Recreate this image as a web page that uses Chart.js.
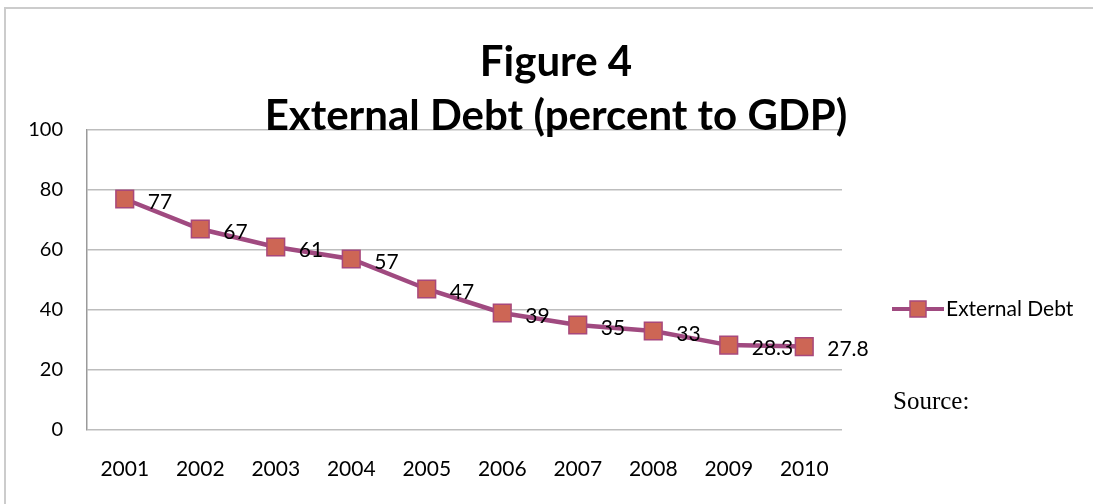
<!DOCTYPE html>
<html>
<head>
<meta charset="utf-8">
<script src="https://cdn.jsdelivr.net/npm/chart.js@4/dist/chart.umd.min.js"></script>
<style>
  body { margin: 0; background: #fff; }
  #wrap { position: relative; width: 1093px; height: 504px; }
  #frame { position: absolute; left: 4px; top: 7px; width: 1100px; height: 520px; border: 2px solid #cccccc; box-sizing: border-box; pointer-events: none; }
</style>
</head>
<body>
<div id="wrap">
  <div id="frame"></div>
  <canvas id="debtChart" width="1093" height="504"></canvas>
</div>
<script>
const years = ["2001", "2002", "2003", "2004", "2005", "2006", "2007", "2008", "2009", "2010"];
const debtValues = [77, 67, 61, 57, 47, 39, 35, 33, 28.3, 27.8];
const yTicks = [0, 20, 40, 60, 80, 100];
const titleLines = ["Figure 4", "External Debt (percent to GDP)"];
const seriesName = "External Debt";
const sourceText = "Source:";

const lineColor = "#a04a80";
const markerFill = "#cd6655";
const markerBorder = "#a8487c";
const sansFont = "Lato, 'Open Sans', sans-serif";

// labels, title, legend and source note drawn on top
const extras = {
  id: "extras",
  afterDatasetsDraw(chart) {
    const ctx = chart.ctx;
    const meta = chart.getDatasetMeta(0);
    ctx.save();
    ctx.fillStyle = "#000";
    ctx.font = "21px " + sansFont;
    ctx.textAlign = "left";
    ctx.textBaseline = "middle";
    meta.data.forEach((pt, i) => {
      ctx.fillText(String(debtValues[i]), pt.x + 23, pt.y + 3);
    });

    // title
    ctx.font = "bold 42px " + sansFont;
    ctx.textAlign = "center";
    ctx.textBaseline = "alphabetic";
    ctx.fillText(titleLines[0], 556, 76);
    ctx.fillText(titleLines[1], 556, 130);

    // legend
    const ly = 309;
    ctx.strokeStyle = lineColor;
    ctx.lineWidth = 4;
    ctx.beginPath();
    ctx.moveTo(892, ly);
    ctx.lineTo(944, ly);
    ctx.stroke();
    ctx.fillStyle = markerFill;
    ctx.strokeStyle = markerBorder;
    ctx.lineWidth = 1.5;
    ctx.fillRect(910, ly - 8, 16, 16);
    ctx.strokeRect(910, ly - 8, 16, 16);
    ctx.fillStyle = "#000";
    ctx.font = "21px " + sansFont;
    ctx.textAlign = "left";
    ctx.textBaseline = "middle";
    ctx.fillText(seriesName, 946, ly);

    // source note
    ctx.font = "25px 'Liberation Serif', serif";
    ctx.fillText(sourceText, 893, 402);
    ctx.restore();
  }
};

new Chart("debtChart", {
  type: "line",
  data: {
    labels: years,
    datasets: [{
      label: seriesName,
      data: debtValues,
      borderColor: lineColor,
      borderWidth: 4.5,
      backgroundColor: markerFill,
      pointStyle: "rect",
      pointRadius: 12.5,
      pointHoverRadius: 12.5,
      pointBackgroundColor: markerFill,
      pointBorderColor: markerBorder,
      pointBorderWidth: 1.5,
      tension: 0
    }]
  },
  options: {
    responsive: false,
    animation: false,
    events: [],
    layout: { padding: { left: 0, top: 130, right: 251, bottom: 0 } },
    plugins: {
      legend: { display: false },
      title: { display: false },
      tooltip: { enabled: false }
    },
    scales: {
      x: {
        offset: true,
        grid: { display: false, drawTicks: false },
        border: { display: false },
        ticks: { color: "#000", font: { family: sansFont, size: 21 }, padding: 27, maxRotation: 0 },
        afterFit(scale) { scale.height = 74; }
      },
      y: {
        min: 0,
        max: 100,
        afterBuildTicks(scale) { scale.ticks = yTicks.map(v => ({ value: v })); },
        grid: { color: "#bdbdbd", lineWidth: 1.5, drawTicks: false },
        border: { display: true, color: "#9a9a9a", width: 1.5 },
        ticks: { color: "#000", font: { family: sansFont, size: 20 }, padding: 24 },
        afterFit(scale) { scale.width = 87; }
      }
    }
  },
  plugins: [extras]
});
</script>
</body>
</html>
